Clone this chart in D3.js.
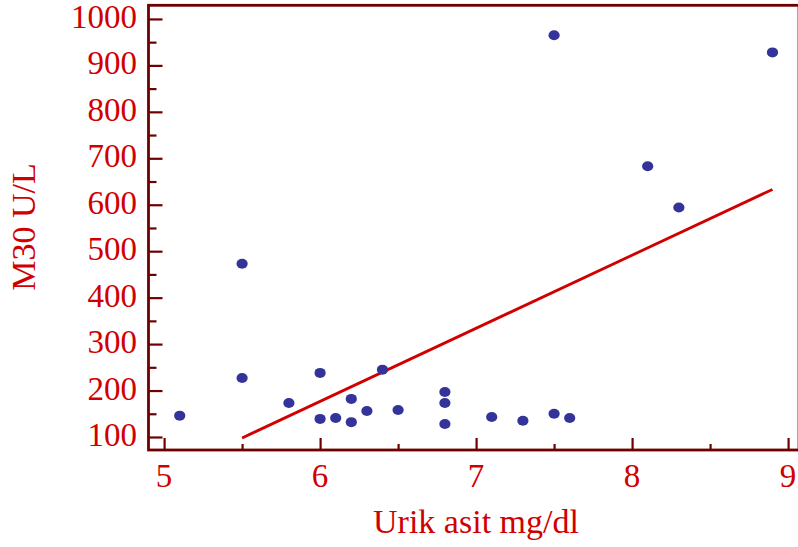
<!DOCTYPE html>
<html><head><meta charset="utf-8">
<script src="https://cdn.jsdelivr.net/npm/d3@7"></script>
<style>html,body{margin:0;padding:0;background:#fff;}svg{display:block;}</style>
</head><body>
<svg id="c" width="798" height="547"></svg>
<script>
const xVals = [5.1,5.5,5.5,5.8,6.0,6.0,6.1,6.2,6.2,6.3,6.4,6.5,6.8,6.8,6.8,7.1,7.3,7.5,7.6,7.5,8.1,8.3,8.9];
const yVals = [146,473,227,173,238,139,141,182,132,156,245,158,197,173,128,143,135,150,141,965,683,594,928];
const fitX = [5.5, 8.9];
const fitY = [98, 633];
const xTicks = [5,6,7,8,9];
const xMinor = [5.5,6.5,7.5,8.5];
const yTicks = [100,200,300,400,500,600,700,800,900,1000];
const yMinor = [150,250,350,450,550,650,750,850,950];
const xTitle = "Urik asit mg/dl";
const yTitle = "M30 U/L";

const axisCol = "#6e0000", textCol = "#d10000", dotCol = "#333399", lineCol = "#d00000";
const font = "'Liberation Serif','Times New Roman',serif";
const svg = d3.select("#c");
const x = d3.scaleLinear().domain([4.9, 9.07]).range([148.5, 799]);
const y = d3.scaleLinear().domain([72, 1030]).range([450, 5]);

// fit line
svg.append("line")
  .attr("x1", x(fitX[0])).attr("y1", y(fitY[0]))
  .attr("x2", x(fitX[1])).attr("y2", y(fitY[1]))
  .attr("stroke", lineCol).attr("stroke-width", 2.8);

// points
svg.append("g").selectAll("ellipse").data(xVals.map((v,i)=>[v,yVals[i]])).join("ellipse")
  .attr("cx", d=>x(d[0])).attr("cy", d=>y(d[1]))
  .attr("rx", 5.6).attr("ry", 5).attr("fill", dotCol);

// frame
const x0 = x(4.9), x1 = x(9.07), y0 = y(72), y1 = y(1030);
svg.append("rect").attr("x", x0).attr("y", y1+0.3).attr("width", x1-x0).attr("height", y0-y1-0.3)
  .attr("fill","none").attr("stroke", axisCol).attr("stroke-width", 2.8);

// y ticks (inward)
const yAxisG = svg.append("g").attr("transform", `translate(${x0},0)`);
yAxisG.call(d3.axisRight(y).tickValues(yTicks).tickSize(14).tickFormat(""))
  .call(g=>g.select(".domain").remove())
  .call(g=>g.selectAll("line").attr("stroke", axisCol).attr("stroke-width", 2.2));
yAxisG.append("g").call(d3.axisRight(y).tickValues(yMinor).tickSize(8).tickFormat(""))
  .call(g=>g.select(".domain").remove())
  .call(g=>g.selectAll("line").attr("stroke", axisCol).attr("stroke-width", 2.2));
svg.append("g").selectAll("text").data(yTicks).join("text")
  .attr("x", 137).attr("y", d=>y(d)+9).attr("text-anchor","end")
  .attr("font-family", font).attr("font-size", 33).attr("fill", textCol).text(d=>d);

// x ticks (inward)
const xAxisG = svg.append("g").attr("transform", `translate(0,${y0})`);
xAxisG.call(d3.axisTop(x).tickValues(xTicks).tickSize(12).tickFormat(""))
  .call(g=>g.select(".domain").remove())
  .call(g=>g.selectAll("line").attr("stroke", axisCol).attr("stroke-width", 2.2));
xAxisG.append("g").call(d3.axisTop(x).tickValues(xMinor).tickSize(6).tickFormat(""))
  .call(g=>g.select(".domain").remove())
  .call(g=>g.selectAll("line").attr("stroke", axisCol).attr("stroke-width", 2.2));
svg.append("g").selectAll("text").data(xTicks).join("text")
  .attr("x", d=>x(d)).attr("y", 487).attr("text-anchor","middle")
  .attr("font-family", font).attr("font-size", 33).attr("fill", textCol).text(d=>d);

// titles
svg.append("text").attr("x", 476).attr("y", 533).attr("text-anchor","middle")
  .attr("font-family", font).attr("font-size", 34).attr("fill", textCol).text(xTitle);
svg.append("text").attr("transform","translate(35,227) rotate(-90)").attr("text-anchor","middle")
  .attr("font-family", font).attr("font-size", 34).attr("fill", textCol).text(yTitle);
</script>
</body></html>
